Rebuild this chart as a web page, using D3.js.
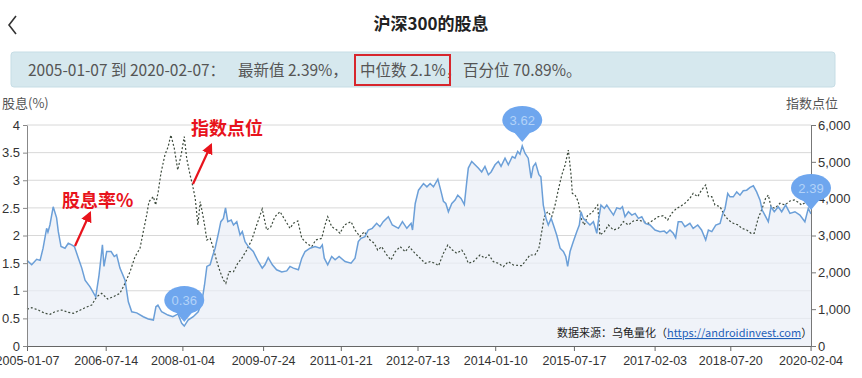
<!DOCTYPE html>
<html>
<head>
<meta charset="utf-8">
<script src="https://cdn.jsdelivr.net/npm/d3@7"></script>
<style>
  body { margin: 0; background: #fff; }
  svg { display: block; font-family: "Liberation Sans", Arial, "Noto Sans CJK SC", sans-serif; }
</style>
</head>
<body>
<div id="chart"></div>
<script>
// dividend yield (%) of CSI 300
var yieldDates = ["2005-01-07","2005-02-09","2005-03-16","2005-04-09","2005-04-30","2005-05-25","2005-06-03","2005-06-17","2005-07-10","2005-08-03",
  "2005-08-15","2005-09-03","2005-10-01","2005-10-24","2005-11-17","2005-12-06","2006-01-03","2006-01-27","2006-02-19","2006-03-26",
  "2006-05-05","2006-05-28","2006-06-21","2006-07-02","2006-07-21","2006-08-21","2006-09-12","2006-09-29","2006-10-22","2006-11-27",
  "2006-12-20","2007-01-13","2007-02-17","2007-04-04","2007-05-09","2007-06-14","2007-07-02","2007-07-16","2007-08-11","2007-09-24",
  "2007-10-29","2007-12-04","2007-12-30","2008-01-17","2008-02-13","2008-03-20","2008-04-24","2008-05-20","2008-06-07","2008-06-24",
  "2008-07-17","2008-08-02","2008-08-21","2008-09-13","2008-09-30","2008-10-18","2008-11-02","2008-11-18","2008-12-12","2008-12-28",
  "2009-01-20","2009-02-12","2009-02-28","2009-03-19","2009-04-11","2009-05-16","2009-06-20","2009-07-18","2009-08-06","2009-08-29",
  "2009-09-27","2009-10-27","2009-12-02","2010-01-06","2010-01-29","2010-02-22","2010-03-29","2010-04-22","2010-05-15","2010-06-19",
  "2010-07-24","2010-08-28","2010-09-13","2010-09-27","2010-10-21","2010-11-18","2010-12-12","2011-01-09","2011-02-20","2011-04-03",
  "2011-05-01","2011-05-24","2011-06-12","2011-07-10","2011-08-02","2011-08-30","2011-09-30","2011-10-23","2011-11-15","2011-12-21",
  "2012-01-18","2012-03-01","2012-03-29","2012-04-29","2012-05-29","2012-06-08","2012-06-27","2012-07-20","2012-08-24","2012-09-17",
  "2012-10-10","2012-11-02","2012-12-03","2012-12-26","2013-01-11","2013-01-28","2013-02-15","2013-03-11","2013-04-03","2013-04-22",
  "2013-05-15","2013-06-07","2013-06-24","2013-07-05","2013-07-29","2013-08-21","2013-09-13","2013-10-07","2013-10-30","2013-11-23",
  "2013-12-12","2014-01-09","2014-02-01","2014-02-20","2014-03-20","2014-04-12","2014-05-10","2014-05-29","2014-06-17","2014-07-03",
  "2014-07-19","2014-08-07","2014-08-30","2014-09-19","2014-10-04","2014-10-21","2014-11-13","2014-11-27","2014-12-14","2015-01-02",
  "2015-01-18","2015-02-07","2015-02-23","2015-03-18","2015-04-11","2015-05-04","2015-05-21","2015-06-03","2015-06-20","2015-07-13",
  "2015-08-06","2015-08-24","2015-09-05","2015-09-21","2015-10-15","2015-11-07","2015-12-01","2015-12-25","2016-01-04","2016-01-23",
  "2016-02-16","2016-03-04","2016-03-27","2016-04-20","2016-05-13","2016-06-06","2016-06-22","2016-07-10","2016-08-03","2016-08-27",
  "2016-09-19","2016-10-12","2016-11-05","2016-11-29","2017-01-02","2017-02-06","2017-03-13","2017-04-12","2017-04-29","2017-05-22",
  "2017-06-14","2017-07-01","2017-07-19","2017-08-12","2017-09-04","2017-10-09","2017-11-01","2017-12-03","2017-12-30","2018-01-28",
  "2018-02-16","2018-03-12","2018-04-09","2018-05-09","2018-05-25","2018-06-13","2018-07-02","2018-07-18","2018-08-10","2018-09-03",
  "2018-09-26","2018-10-19","2018-11-12","2018-12-06","2018-12-29","2019-01-21","2019-02-14","2019-03-01","2019-03-20","2019-04-13",
  "2019-05-02","2019-05-25","2019-06-22","2019-07-16","2019-08-13","2019-09-12","2019-10-17","2019-11-21","2019-12-26","2020-01-19",
  "2020-02-07"];
var yieldValues = [1.55,1.47,1.57,1.55,1.77,2.13,2.06,2.19,2.52,2.32,
  2.07,1.80,1.77,1.86,1.83,1.80,1.59,1.41,1.19,1.07,
  0.89,1.28,1.83,1.44,1.71,1.71,1.62,1.65,1.41,1.19,
  0.80,0.62,0.60,0.53,0.49,0.47,0.71,0.74,0.62,0.56,
  0.53,0.58,0.41,0.36,0.47,0.53,0.62,0.80,1.10,1.44,
  1.47,1.62,1.77,2.04,2.25,2.31,2.50,2.25,2.28,2.19,
  2.25,2.01,2.07,1.89,1.80,1.71,1.53,1.41,1.47,1.60,
  1.47,1.38,1.34,1.36,1.44,1.41,1.38,1.59,1.71,1.77,
  1.80,1.77,1.83,1.59,1.47,1.62,1.56,1.62,1.53,1.50,
  1.59,1.89,1.95,1.98,2.10,2.13,2.22,2.16,2.25,2.34,
  2.19,2.13,2.25,2.13,2.22,2.10,2.58,2.82,2.94,2.88,
  2.94,2.88,3.02,2.79,2.62,2.58,2.43,2.58,2.64,2.73,
  2.67,2.56,2.97,3.22,3.34,3.28,3.22,3.15,3.25,3.10,
  3.15,3.28,3.34,3.25,3.40,3.28,3.43,3.40,3.52,3.47,
  3.62,3.49,3.40,3.04,3.25,3.31,3.10,3.06,2.55,2.31,
  2.19,2.31,2.19,2.01,1.77,1.71,1.62,1.44,1.71,1.89,
  2.07,2.19,2.43,2.31,2.25,2.19,2.25,2.04,2.25,2.55,
  2.49,2.55,2.46,2.37,2.50,2.48,2.52,2.34,2.43,2.37,
  2.40,2.31,2.34,2.22,2.19,2.10,2.07,2.08,2.04,2.10,
  2.04,1.96,2.25,2.25,2.16,2.22,2.13,2.19,2.10,1.92,
  2.10,2.07,2.19,2.22,2.37,2.49,2.76,2.70,2.70,2.79,
  2.73,2.81,2.82,2.87,2.90,2.79,2.64,2.46,2.37,2.25,
  2.52,2.43,2.52,2.43,2.55,2.40,2.43,2.37,2.25,2.49,
  2.39];

// CSI 300 index level
var indexDates = ["2005-01-07","2005-02-09","2005-03-27","2005-05-13","2005-06-17","2005-07-23","2005-09-08","2005-10-24","2005-11-29","2006-01-03",
  "2006-02-19","2006-04-07","2006-05-12","2006-06-16","2006-07-28","2006-09-06","2006-10-22","2006-11-27","2007-01-01","2007-02-05",
  "2007-03-12","2007-04-04","2007-04-28","2007-05-14","2007-06-14","2007-06-30","2007-07-18","2007-08-06","2007-09-03","2007-09-26",
  "2007-10-15","2007-11-08","2007-12-02","2007-12-26","2008-01-17","2008-02-03","2008-02-27","2008-03-15","2008-04-03","2008-04-22",
  "2008-05-08","2008-05-31","2008-06-24","2008-07-17","2008-08-09","2008-09-02","2008-09-25","2008-10-18","2008-11-04","2008-11-27",
  "2008-12-28","2009-01-27","2009-02-24","2009-03-31","2009-05-05","2009-06-09","2009-07-18","2009-08-18","2009-09-17","2009-10-15",
  "2009-11-20","2009-12-25","2010-01-29","2010-02-22","2010-03-25","2010-04-22","2010-05-27","2010-07-01","2010-07-29","2010-09-09",
  "2010-10-02","2010-10-21","2010-11-18","2010-12-24","2011-01-15","2011-02-15","2011-04-03","2011-05-01","2011-06-05","2011-07-05",
  "2011-08-14","2011-09-13","2011-10-07","2011-11-04","2011-12-10","2012-01-09","2012-02-07","2012-03-13","2012-04-18","2012-05-16",
  "2012-06-15","2012-07-20","2012-08-01","2012-09-05","2012-10-10","2012-11-14","2012-12-08","2013-01-11","2013-02-11","2013-03-15",
  "2013-04-15","2013-05-20","2013-06-12","2013-07-05","2013-08-09","2013-09-25","2013-10-30","2013-11-27","2013-12-28","2014-02-01",
  "2014-03-08","2014-04-12","2014-05-17","2014-07-15","2014-08-07","2014-09-11","2014-10-16","2014-11-13","2014-12-03","2014-12-21",
  "2015-01-14","2015-02-11","2015-03-07","2015-03-29","2015-04-23","2015-05-16","2015-06-08","2015-06-27","2015-07-06","2015-07-25",
  "2015-08-17","2015-09-05","2015-09-28","2015-10-22","2015-11-19","2015-12-13","2015-12-31","2016-01-16","2016-02-16","2016-03-15",
  "2016-04-20","2016-05-25","2016-06-29","2016-08-03","2016-09-07","2016-10-12","2016-11-16","2016-12-22","2017-01-25","2017-03-01",
  "2017-04-05","2017-05-06","2017-06-03","2017-07-08","2017-07-31","2017-09-04","2017-10-09","2017-11-01","2017-12-03","2017-12-30",
  "2018-01-28","2018-02-16","2018-03-12","2018-04-03","2018-05-09","2018-06-08","2018-07-06","2018-08-10","2018-09-14","2018-10-08",
  "2018-11-12","2018-12-13","2019-01-04","2019-02-01","2019-03-01","2019-03-25","2019-04-13","2019-05-02","2019-05-29","2019-07-04",
  "2019-08-08","2019-09-12","2019-10-12","2019-11-09","2019-12-03","2020-01-08","2020-02-07"];
var indexValues = [1000,1040,977,887,860,931,977,914,887,950,
  1040,1113,1339,1430,1276,1339,1430,1702,2017,2424,
  2652,3103,3557,3918,4054,3828,4189,4689,5186,5411,
  5729,5367,4778,5186,5683,5096,4643,4371,4010,3285,
  3918,3467,2878,2924,2652,2289,2017,1792,1702,2017,
  2017,2245,2381,2606,2878,3285,3720,3149,3239,3511,
  3647,3421,3195,3331,3394,2924,2788,2697,2878,2924,
  3285,3511,3239,3149,3059,3285,3376,3149,2968,3103,
  2878,2788,2606,2697,2471,2335,2560,2697,2560,2697,
  2560,2424,2381,2245,2289,2245,2180,2517,2742,2606,
  2517,2606,2471,2245,2289,2471,2381,2471,2289,2245,
  2153,2289,2199,2180,2289,2471,2471,2652,3103,3511,
  3647,3511,3828,4235,4643,4914,5321,4643,4145,4100,
  3918,3467,3285,3557,3603,3738,3828,3014,3103,3285,
  3149,3195,3376,3285,3394,3421,3376,3331,3421,3511,
  3538,3421,3603,3738,3783,3874,4010,4145,4054,4235,
  4371,4054,4054,3828,3783,3557,3421,3331,3285,3195,
  3149,3059,3059,3467,3738,4010,4100,3783,3738,3874,
  3828,3937,3964,3901,3828,3918,3783];

var xTicks = ["2005-01-07","2006-07-14","2008-01-04","2009-07-24","2011-01-21","2012-07-13",
  "2014-01-10","2015-07-17","2017-02-03","2018-07-20","2020-02-04"];
var leftTicks = [0, 0.5, 1, 1.5, 2, 2.5, 3, 3.5, 4];
var rightTicks = [0, 1000, 2000, 3000, 4000, 5000, 6000];
// flags: date, yield
var flagDates = ["2008-01-17", "2014-07-19", "2020-02-07"];
var flagValues = [0.36, 3.62, 2.39];

var W = 862, H = 378;
var margin = {left: 27, right: 51, top: 125, bottom: 32};
var parseDate = d3.timeParse("%Y-%m-%d");

var svg = d3.select("#chart").append("svg").attr("width", W).attr("height", H);
svg.append("rect").attr("width", W).attr("height", H).attr("fill", "#fff");

// header
svg.append("path").attr("d", "M16,16 L9,25 L16,34").attr("fill", "none")
  .attr("stroke", "#333").attr("stroke-width", 1.6);
svg.append("text").attr("x", 431).attr("y", 30).attr("text-anchor", "middle")
  .attr("font-size", 17).attr("font-weight", "bold").attr("fill", "#222")
  .style("font-family", "'Noto Sans CJK SC', sans-serif")
  .text("沪深300的股息");

svg.append("rect").attr("x", 11).attr("y", 52).attr("width", 824).attr("height", 35)
  .attr("rx", 3).attr("fill", "#d6e8ee").attr("stroke", "#c6dde5");
var infoParts = [[28, "2005-01-07 到 2020-02-07："], [238, "最新值 2.39%，"], [360, "中位数 2.1%，"], [463, "百分位 70.89%。"]];
infoParts.forEach(function(p) {
  svg.append("text").attr("x", p[0]).attr("y", 76).attr("font-size", 15.5).attr("fill", "#555")
    .style("font-family", "'Noto Sans CJK SC', sans-serif").text(p[1]);
});
svg.append("rect").attr("x", 355).attr("y", 55).attr("width", 95).attr("height", 30)
  .attr("fill", "none").attr("stroke", "#d7262d").attr("stroke-width", 2);

var x = d3.scaleTime()
  .domain([parseDate(yieldDates[0]), parseDate(yieldDates[yieldDates.length - 1])])
  .range([margin.left, W - margin.right]);
var yL = d3.scaleLinear().domain([0, 4]).range([H - margin.bottom, margin.top]);
var yR = d3.scaleLinear().domain([0, 6000]).range([H - margin.bottom, margin.top]);

// grid
svg.append("g").selectAll("line").data(leftTicks.slice(1)).enter().append("line")
  .attr("x1", margin.left).attr("x2", W - margin.right)
  .attr("y1", function(d) { return yL(d); }).attr("y2", function(d) { return yL(d); })
  .attr("stroke", "#d8d8d8").attr("stroke-width", 1);

var yieldData = yieldDates.map(function(d, i) { return {date: parseDate(d), v: yieldValues[i]}; });
var indexData = indexDates.map(function(d, i) { return {date: parseDate(d), v: indexValues[i]}; });

svg.append("path").datum(yieldData)
  .attr("fill", "#e9eef7").attr("fill-opacity", 0.7)
  .attr("d", d3.area().x(function(d) { return x(d.date); }).y0(yL(0)).y1(function(d) { return yL(d.v); }));

svg.append("path").datum(indexData)
  .attr("fill", "none").attr("stroke", "#3c4a3c").attr("stroke-width", 1.2)
  .attr("stroke-dasharray", "2,2")
  .attr("d", d3.line().x(function(d) { return x(d.date); }).y(function(d) { return yR(d.v); }));

svg.append("path").datum(yieldData)
  .attr("fill", "none").attr("stroke", "#6b9fd8").attr("stroke-width", 1.5)
  .attr("d", d3.line().x(function(d) { return x(d.date); }).y(function(d) { return yL(d.v); }));

// axes
var fmt = d3.timeFormat("%Y-%m-%d");
var xAxis = svg.append("g").attr("transform", "translate(0," + (H - margin.bottom) + ")")
  .call(d3.axisBottom(x).tickValues(xTicks.map(parseDate)).tickFormat(fmt).tickSize(5).tickSizeOuter(0));
xAxis.select(".domain").attr("stroke", "#666");
xAxis.selectAll("line").attr("stroke", "#666");
xAxis.selectAll("text").attr("font-size", 12.5).attr("fill", "#333").attr("dy", "0.9em");

var lAxis = svg.append("g").attr("transform", "translate(" + margin.left + ",0)")
  .call(d3.axisLeft(yL).tickValues(leftTicks).tickFormat(d3.format("")).tickSize(4).tickSizeOuter(0));
lAxis.select(".domain").attr("stroke", "#888");
lAxis.selectAll("line").attr("stroke", "#888");
lAxis.selectAll("text").attr("font-size", 13).attr("fill", "#333").attr("x", -7);

var rAxis = svg.append("g").attr("transform", "translate(" + (W - margin.right) + ",0)")
  .call(d3.axisRight(yR).tickValues(rightTicks).tickFormat(d3.format(",")).tickSize(5).tickSizeOuter(0));
rAxis.select(".domain").attr("stroke", "#777");
rAxis.selectAll("line").attr("stroke", "#777");
rAxis.selectAll("text").attr("font-size", 13).attr("fill", "#333").attr("x", 7);

svg.append("text").attr("x", 2).attr("y", 108).attr("font-size", 13).attr("fill", "#555")
  .style("font-family", "'Noto Sans CJK SC', sans-serif").text("股息(%)");
svg.append("text").attr("x", 838).attr("y", 108).attr("text-anchor", "end").attr("font-size", 13).attr("fill", "#555")
  .style("font-family", "'Noto Sans CJK SC', sans-serif").text("指数点位");

// flags
flagDates.forEach(function(d, i) {
  var fx = x(parseDate(d)), fy = yL(flagValues[i]);
  var g = svg.append("g").attr("transform", "translate(" + fx + "," + fy + ")");
  g.append("path").attr("d", "M-10,-16 L0,-4 L10,-16 Z").attr("fill", "#6ea6ee");
  g.append("ellipse").attr("cx", 0).attr("cy", -26).attr("rx", 20).attr("ry", 14).attr("fill", "#6ea6ee");
  g.append("text").attr("x", 0).attr("y", -21).attr("text-anchor", "middle")
    .attr("font-size", 13).attr("fill", "#b3d3f8").text(flagValues[i]);
});

// annotations
svg.append("defs").append("marker").attr("id", "arr").attr("viewBox", "0 0 10 10")
  .attr("refX", 8).attr("refY", 5).attr("markerWidth", 5).attr("markerHeight", 5).attr("orient", "auto")
  .append("path").attr("d", "M0,0 L10,5 L0,10 z").attr("fill", "#e8131c");
svg.append("line").attr("x1", 75).attr("y1", 246).attr("x2", 90).attr("y2", 213)
  .attr("stroke", "#e8131c").attr("stroke-width", 2.2).attr("marker-end", "url(#arr)");
svg.append("line").attr("x1", 193).attr("y1", 184).attr("x2", 211).attr("y2", 145)
  .attr("stroke", "#e8131c").attr("stroke-width", 2.2).attr("marker-end", "url(#arr)");
svg.append("text").attr("x", 62).attr("y", 207).attr("font-size", 18).attr("font-weight", "bold")
  .attr("fill", "#e8131c").style("font-family", "'Noto Sans CJK SC', sans-serif").text("股息率%");
svg.append("text").attr("x", 191).attr("y", 135).attr("font-size", 18).attr("font-weight", "bold")
  .attr("fill", "#e8131c").style("font-family", "'Noto Sans CJK SC', sans-serif").text("指数点位");

// source note
var src = svg.append("text").attr("x", 557).attr("y", 337).attr("font-size", 11).attr("fill", "#222")
  .style("font-family", "'Noto Sans CJK SC', sans-serif");
src.append("tspan").text("数据来源：乌龟量化（");
src.append("tspan").attr("fill", "#1f5fb8").attr("text-decoration", "underline").text("https://androidinvest.com");
src.append("tspan").text("）");
</script>
</body>
</html>
